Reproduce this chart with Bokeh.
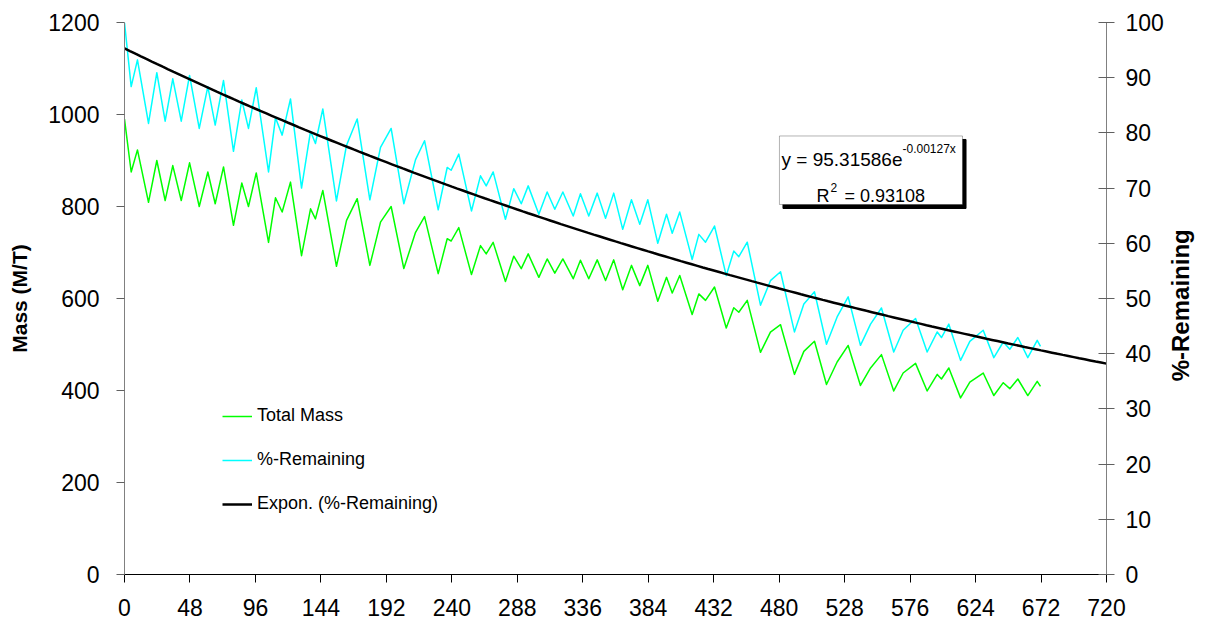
import math
import numpy as np
from bokeh.plotting import figure
from bokeh.models import (Range1d, LinearAxis, FixedTicker, Legend, LegendItem,
                          BoxAnnotation, Label)
from bokeh.embed import file_html
from bokeh.resources import INLINE

FONT = "Liberation Sans"

# ---- data ----
hours = [0, 4.9, 9.5, 17.6, 23.7, 29.8, 35.4, 41.6, 47.7, 54.8, 61.1, 66.5, 72.6, 79.9,
         86.0, 90.9, 96.6, 105.6, 110.7, 115.6, 121.7, 129.8, 136.4, 140.0, 145.4, 155.4,
         162.8, 170.6, 179.9, 187.7, 195.5, 204.8, 213.4, 220.0, 230.0, 236.6, 239.5,
         245.1, 254.4, 261.0, 265.2, 270.3, 279.3, 285.4, 290.9, 296.0, 303.8, 309.9,
         315.5, 321.4, 329.0, 334.3, 340.4, 346.6, 352.7, 358.7, 365.3, 371.7, 377.8,
         383.7, 391.0, 397.4, 401.6, 407.1, 416.2, 421.1, 426.0, 432.6, 441.2, 446.7,
         450.4, 456.6, 466.3, 473.6, 481.0, 491.2, 498.1, 505.9, 514.7, 522.5, 530.6,
         539.6, 547.0, 555.0, 564.0, 570.9, 580.0, 588.5, 595.9, 599.0, 604.4, 613.0,
         619.8, 629.6, 637.4, 644.3, 649.1, 655.0, 662.3, 669.2, 671.6]
mass = [990, 875, 923, 809, 900, 813, 889, 813, 895, 800, 875, 806, 886, 759,
        851, 800, 873, 722, 819, 788, 853, 693, 795, 773, 835, 670,
        770, 817, 672, 766, 800, 665, 744, 778, 654, 730, 725,
        754, 652, 715, 697, 722, 637, 692, 665, 697, 646, 686,
        655, 686, 643, 683, 643, 684, 639, 684, 619, 672, 628,
        672, 594, 646, 612, 650, 565, 610, 596, 625, 536, 580,
        570, 596, 483, 527, 543, 435, 485, 507, 413, 462, 498,
        411, 449, 478, 399, 438, 459, 399, 435, 425, 449, 384,
        418, 438, 389, 417, 404, 425, 389, 420, 409]
# %-Remaining is the mass relative to the initial mass
pct_remaining = [m / mass[0] * 100 for m in mass]

# exponential trendline as printed on the chart
trend_a = 95.31586
trend_b = -0.00127
trend_x = np.linspace(0, 720, 181)
trend_y = trend_a * np.exp(trend_b * trend_x)

hour_ticks = list(range(0, 721, 48))
mass_ticks = list(range(0, 1201, 200))
pct_ticks = list(range(0, 101, 10))

series_names = ["Total Mass", "%-Remaining", "Expon. (%-Remaining)"]
left_title = "Mass (M/T)"
right_title = "%-Remaining"

# ---- figure ----
p = figure(width=1219, height=628, x_range=Range1d(0, 720), y_range=Range1d(0, 1200),
           output_backend="svg", toolbar_location=None,
           min_border_left=124, min_border_right=113, min_border_top=22, min_border_bottom=54)
p.grid.visible = False
p.outline_line_color = None
p.background_fill_color = "white"
p.border_fill_color = "white"
p.extra_y_ranges = {"pct": Range1d(0, 100)}

xa = p.xaxis[0]
xa.ticker = FixedTicker(ticks=hour_ticks)
xa.major_tick_in = 0
xa.major_tick_out = 8
xa.minor_tick_line_color = None
xa.axis_line_color = "black"
xa.major_tick_line_color = "black"
xa.major_label_text_font = FONT
xa.major_label_text_font_size = "23px"
xa.major_label_text_color = "black"
xa.major_label_standoff = 16

ya = p.yaxis[0]
ya.ticker = FixedTicker(ticks=mass_ticks)
ya.major_tick_in = 0
ya.major_tick_out = 8
ya.minor_tick_line_color = None
ya.axis_line_color = "#808080"
ya.major_tick_line_color = "#606060"
ya.major_label_text_font = FONT
ya.major_label_text_font_size = "23px"
ya.major_label_text_color = "black"
ya.major_label_standoff = 17
ya.axis_label = left_title
ya.axis_label_text_font = FONT
ya.axis_label_text_font_style = "bold"
ya.axis_label_text_font_size = "21px"
ya.axis_label_text_color = "black"
ya.axis_label_standoff = 14

ra = LinearAxis(y_range_name="pct", ticker=FixedTicker(ticks=pct_ticks))
ra.major_tick_in = 8
ra.major_tick_out = 8
ra.minor_tick_line_color = None
ra.axis_line_color = "#808080"
ra.major_tick_line_color = "#606060"
ra.major_label_text_font = FONT
ra.major_label_text_font_size = "23px"
ra.major_label_text_color = "black"
ra.major_label_standoff = 11
p.add_layout(ra, "right")

# right-hand title, written bottom-to-top (held by a bare axis with one labelled tick)
title_pos = 35
rt = LinearAxis(y_range_name="pct", ticker=FixedTicker(ticks=[title_pos]),
                major_label_overrides={title_pos: right_title})
rt.major_tick_in = 0
rt.major_tick_out = 0
rt.minor_tick_line_color = None
rt.major_tick_line_color = None
rt.axis_line_color = None
rt.major_label_orientation = math.pi / 2
rt.major_label_text_font = FONT
rt.major_label_text_font_style = "bold"
rt.major_label_text_font_size = "24px"
rt.major_label_text_color = "black"
rt.major_label_standoff = 14
p.add_layout(rt, "right")

# ---- series ----
r_mass = p.line(hours, mass, color="#00FF00", line_width=1.5, line_join="round")
r_pct = p.line(hours, pct_remaining, color="#00FFFF", line_width=1.5, line_join="round",
               y_range_name="pct")
r_trend = p.line(trend_x, trend_y, color="black", line_width=2.5, y_range_name="pct")

legend = Legend(items=[LegendItem(label=series_names[0], renderers=[r_mass]),
                       LegendItem(label=series_names[1], renderers=[r_pct]),
                       LegendItem(label=series_names[2], renderers=[r_trend])],
                location=(98, 60), border_line_color=None, background_fill_alpha=0,
                padding=0, margin=0, spacing=23, label_height=20, glyph_height=20,
                glyph_width=30, label_standoff=5, label_text_font=FONT,
                label_text_font_size="18px", label_text_color="black")
p.add_layout(legend)

# ---- trendline equation box ----
shadow = BoxAnnotation(left=482.8, right=617.0, top=945.7, bottom=795.7,
                       fill_color="black", fill_alpha=1, line_color="black", line_alpha=1)
box = BoxAnnotation(left=480.2, right=614.4, top=953.3, bottom=804.3,
                    fill_color="white", fill_alpha=1, line_color="black", line_width=1)
p.add_layout(shadow)
p.add_layout(box)

def lab(x, y, t, size, align):
    p.add_layout(Label(x=x, y=y, text=t, text_align=align, text_baseline="alphabetic",
                       text_font=FONT, text_font_size=size, text_color="black"))

lab(570.4, 901.5, "y = 95.31586e", "19px", "right")
lab(570.4, 925.0, "-0.00127x", "12px", "left")
lab(507.4, 823.9, "R", "18px", "left")
lab(517.6, 842.0, "2", "12px", "left")
lab(527.9, 823.9, "= 0.93108", "18px", "left")

open("out.html", "w").write(file_html(p, INLINE))
